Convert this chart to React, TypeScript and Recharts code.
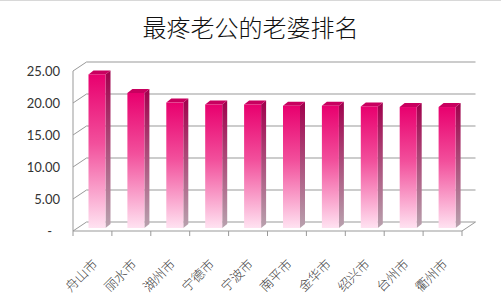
import { BarChart, Bar, XAxis, YAxis, CartesianGrid } from 'recharts'

const cities = ['舟山市', '丽水市', '湖州市', '宁德市', '宁波市', '南平市', '金华市', '绍兴市', '台州市', '衢州市']
const scores = [24.0, 21.1, 19.6, 19.3, 19.3, 19.1, 19.1, 19.0, 18.9, 18.9]
const yTicks = [0, 5, 10, 15, 20, 25]

const data = cities.map((name, i) => ({ name, value: scores[i] }))

// 3D look: back wall offset from front plane, and bar depth
const WALL_DX = 13.5
const WALL_DY = 9
const BAR_SHIFT_X = 4.5
const BAR_SHIFT_Y = -3
const DEPTH_X = 5
const DEPTH_Y = 4
const GRID = '#999'

const W = 501
const H = 300
const MARGIN = { top: 71, right: 39, left: 13, bottom: 0 }
const Y_AXIS_W = 60
const X_AXIS_H = 69
const band = (W - MARGIN.left - Y_AXIS_W - MARGIN.right) / cities.length

function GridLine(props: any) {
  const { x1, x2, y1, index } = props
  const isFloor = Math.abs(y1 - (H - X_AXIS_H)) < 1
  return (
    <g key={`g-${index}`}>
      <line x1={x1} y1={y1} x2={x1 + WALL_DX} y2={y1 - WALL_DY} stroke={GRID} />
      <line x1={x1 + WALL_DX} y1={y1 - WALL_DY} x2={x2 + WALL_DX} y2={y1 - WALL_DY} stroke={GRID} />
      {isFloor && <line x1={x2} y1={y1} x2={x2 + WALL_DX} y2={y1 - WALL_DY} stroke={GRID} />}
    </g>
  )
}

function Bar3D(props: any) {
  const { x, y, width, height } = props
  if (height <= 0) return null
  const fx = x + BAR_SHIFT_X
  const fy = y + BAR_SHIFT_Y
  const r = fx + width
  const b = fy + height
  return (
    <g>
      <polygon
        points={`${r},${fy} ${r + DEPTH_X},${fy - DEPTH_Y} ${r + DEPTH_X},${b - DEPTH_Y} ${r},${b}`}
        fill="url(#sideGrad)"
      />
      <polygon
        points={`${fx},${fy} ${fx + DEPTH_X},${fy - DEPTH_Y} ${r + DEPTH_X},${fy - DEPTH_Y} ${r},${fy}`}
        fill="#c8005f"
      />
      <rect x={fx} y={fy} width={width} height={height} fill="url(#frontGrad)" />
    </g>
  )
}

function YTick(props: any) {
  const { y, payload } = props
  const v = payload.value as number
  return (
    <text
      x={v === 0 ? 52 : 60}
      y={y}
      dy="0.35em"
      textAnchor="end"
      fontSize={13}
      fontFamily="Lato, 'Open Sans', sans-serif"
      fill="#333333"
    >
      {v === 0 ? '-' : v.toFixed(2)}
    </text>
  )
}

function XTick(props: any) {
  const { x, y, payload, index } = props
  const left = x - band / 2
  const right = x + band / 2
  const tx = x + 6
  const ty = y + 34
  return (
    <g>
      <line x1={left} y1={y} x2={left} y2={y + 5} stroke={GRID} />
      {index === cities.length - 1 && <line x1={right} y1={y} x2={right} y2={y + 5} stroke={GRID} />}
      <text
        x={tx}
        y={ty}
        textAnchor="end"
        fontSize={13}
        fontFamily="'Noto Sans CJK SC', sans-serif"
        fontWeight={300}
        fill="#404040"
        transform={`rotate(-45, ${tx}, ${ty})`}
      >
        {payload.value}
      </text>
    </g>
  )
}

export default function App() {
  return (
    <div
      style={{
        position: 'absolute',
        left: 0,
        top: 0,
        width: W,
        height: H,
        background: '#fff',
        borderTop: '1px solid #d8d8d8',
        boxSizing: 'border-box',
      }}
    >
      <div
        style={{
          position: 'absolute',
          left: 0,
          top: 11,
          width: W,
          textAlign: 'center',
          fontSize: 24,
          fontFamily: "'Noto Sans CJK SC', sans-serif",
          fontWeight: 300,
          color: '#111',
          lineHeight: '30px',
        }}
      >
        最疼老公的老婆排名
      </div>
      <div style={{ position: 'absolute', left: 0, top: -1 }}>
        <BarChart width={W} height={H} data={data} margin={MARGIN} barSize={17}>
          <defs>
            <linearGradient id="frontGrad" x1="0" y1="0" x2="0" y2="1">
              <stop offset="0%" stopColor="#e8006e" />
              <stop offset="45%" stopColor="#f2509c" />
              <stop offset="100%" stopColor="#ffe2f1" />
            </linearGradient>
            <linearGradient id="sideGrad" x1="0" y1="0" x2="0" y2="1">
              <stop offset="0%" stopColor="#a0004c" />
              <stop offset="100%" stopColor="#b8a2ae" />
            </linearGradient>
          </defs>
          <CartesianGrid vertical={false} horizontal={(p: any) => <GridLine {...p} />} />
          <XAxis
            dataKey="name"
            interval={0}
            height={X_AXIS_H}
            tickLine={false}
            tickSize={0}
            tickMargin={0}
            axisLine={{ stroke: GRID }}
            tick={<XTick />}
          />
          <YAxis
            width={Y_AXIS_W}
            domain={[0, 25]}
            ticks={yTicks}
            tickLine={false}
            tickSize={0}
            tickMargin={0}
            axisLine={{ stroke: GRID }}
            tick={<YTick />}
          />
          <Bar dataKey="value" shape={<Bar3D />} isAnimationActive={false} />
        </BarChart>
      </div>
    </div>
  )
}
